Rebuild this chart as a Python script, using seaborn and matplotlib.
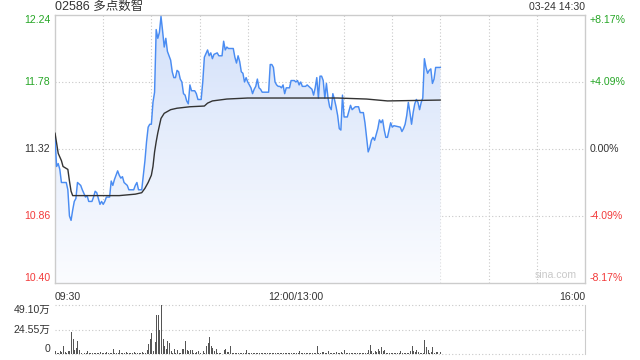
import numpy as np
import pandas as pd
import matplotlib
matplotlib.use("Agg")
import matplotlib.pyplot as plt
import matplotlib.transforms as mtransforms
from matplotlib.colors import LinearSegmentedColormap
import seaborn as sns

# ---------------- data ----------------
title = "02586 多点数智"
stamp = "03-24 14:30"
prev_close = 11.32
price_ticks = [12.24, 11.78, 11.32, 10.86, 10.40]
pct_ticks = ["+8.17%", "+4.09%", "0.00%", "-4.09%", "-8.17%"]
time_ticks = [0, 150, 330]
time_labels = ["09:30", "12:00/13:00", "16:00"]
vol_ticks = [49.10, 24.55, 0]
vol_labels = ["49.10万", "24.55万", "0"]

# (trading minute since 09:30, price)
price_points = [
    (0, 11.40), (1, 11.20), (2, 11.22), (3, 11.18), (4, 11.09), (5, 11.09), (6, 11.09), (7, 11.09),
    (8, 11.04), (9, 10.86), (10, 10.83), (11, 10.90), (12, 10.96), (13, 10.98), (14, 11.09),
    (16, 11.07), (17, 11.04), (19, 10.99), (20, 11.00), (21, 10.96), (23, 10.96), (24, 10.99),
    (25, 11.03), (26, 11.02), (27, 10.98), (28, 10.94), (29, 10.96), (30, 10.94), (31, 10.96),
    (32, 10.99), (34, 10.99), (35, 11.10), (36, 11.07), (37, 11.11), (39, 11.17), (40, 11.14),
    (41, 11.12), (42, 11.13), (43, 11.09), (45, 11.07), (46, 11.04), (48, 11.04), (49, 11.04),
    (50, 11.07), (51, 11.09), (52, 11.04), (54, 11.04), (56, 11.24), (57, 11.37), (58, 11.47),
    (59, 11.49), (60, 11.49), (61, 11.64), (62, 11.71), (63, 12.14), (64, 12.08), (65, 12.12),
    (66, 12.23), (67, 12.13), (68, 12.02), (69, 12.08), (70, 11.99), (71, 11.96), (72, 11.93),
    (73, 11.85), (74, 11.81), (75, 11.81), (76, 11.86), (77, 11.85), (78, 11.80), (79, 11.78),
    (80, 11.70), (81, 11.69), (82, 11.65), (83, 11.63), (84, 11.76), (85, 11.72), (87, 11.72),
    (88, 11.70), (89, 11.66), (91, 11.66), (92, 11.78), (93, 11.95), (95, 12.00), (96, 11.96),
    (97, 11.98), (98, 11.94), (99, 11.97), (101, 11.98), (102, 11.96), (104, 11.96), (105, 12.06),
    (106, 12.00), (107, 12.02), (108, 12.01), (111, 12.01), (112, 11.95), (113, 11.91), (114, 11.96),
    (115, 11.92), (116, 11.85), (117, 11.84), (118, 11.78), (119, 11.81), (120, 11.78), (121, 11.76),
    (122, 11.74), (123, 11.70), (124, 11.73), (125, 11.75), (126, 11.80), (127, 11.74), (128, 11.73),
    (129, 11.71), (131, 11.71), (133, 11.71), (134, 11.90), (135, 11.90), (136, 11.88), (137, 11.78),
    (138, 11.76), (139, 11.75), (140, 11.75), (141, 11.74), (142, 11.76), (143, 11.70), (144, 11.74),
    (146, 11.74), (147, 11.79), (148, 11.79), (149, 11.79), (150, 11.78), (151, 11.79), (152, 11.76),
    (153, 11.78), (154, 11.75), (156, 11.75), (157, 11.76), (158, 11.75), (160, 11.73), (161, 11.69),
    (162, 11.74), (163, 11.81), (164, 11.67), (165, 11.82), (166, 11.82), (167, 11.79), (168, 11.67),
    (169, 11.77), (170, 11.67), (171, 11.61), (172, 11.59), (173, 11.70), (174, 11.66), (175, 11.61),
    (176, 11.55), (177, 11.46), (178, 11.45), (179, 11.69), (180, 11.54), (182, 11.54), (184, 11.62),
    (185, 11.59), (187, 11.61), (189, 11.61), (190, 11.57), (192, 11.57), (193, 11.50), (194, 11.40),
    (195, 11.30), (196, 11.33), (197, 11.38), (198, 11.40), (199, 11.38), (200, 11.42), (201, 11.46),
    (202, 11.52), (203, 11.50), (204, 11.52), (205, 11.45), (206, 11.40), (207, 11.40), (208, 11.45),
    (209, 11.50), (210, 11.47), (211, 11.48), (215, 11.47), (216, 11.44), (217, 11.46), (218, 11.49),
    (219, 11.55), (220, 11.64), (221, 11.57), (222, 11.49), (223, 11.57), (224, 11.63), (225, 11.66),
    (226, 11.64), (227, 11.59), (228, 11.64), (229, 11.67), (230, 11.94), (231, 11.88), (232, 11.84),
    (233, 11.86), (234, 11.87), (235, 11.77), (236, 11.80), (237, 11.88), (238, 11.88), (240, 11.88),
]

avg_points = [
    (0, 11.43), (2, 11.29), (4, 11.24), (5, 11.20), (8, 11.18), (9, 11.10), (10, 11.03), (11, 11.00),
    (20, 11.00), (40, 11.00), (50, 11.01), (54, 11.02), (56, 11.05), (58, 11.09), (60, 11.14),
    (61, 11.20), (62, 11.30), (63, 11.37), (64, 11.43), (65, 11.48), (66, 11.53), (68, 11.565),
    (72, 11.59), (76, 11.60), (84, 11.61), (93, 11.615), (95, 11.635), (98, 11.65), (107, 11.663),
    (120, 11.67), (176, 11.67), (194, 11.663), (207, 11.65), (240, 11.656),
]

# volume per minute, in 万 shares (minute 0 .. 240)
volume = [
    3.3, 1.0, 1.5, 2.7, 1.7, 8.3, 1.7, 1.2, 3.3, 2.7,
    22.0, 15.0, 4.3, 6.0, 13.3, 3.7, 0.8, 0.5, 1.2, 0.8,
    3.3, 1.0, 0.6, 1.2, 0.8, 1.5, 0.7, 1.0, 2.0, 1.2,
    0.8, 1.5, 2.2, 0.7, 1.0, 1.5, 5.3, 0.8, 1.2, 0.6,
    4.3, 1.0, 0.7, 1.5, 2.0, 0.8, 1.2, 0.7, 1.5, 2.0,
    1.0, 0.6, 1.2, 0.8, 2.0, 1.5, 1.2, 3.7, 10.0, 15.0,
    21.0, 2.7, 11.7, 38.7, 38.7, 23.7, 49.1, 15.0, 7.7, 5.0,
    12.7, 11.0, 2.7, 1.5, 5.0, 1.0, 4.3, 1.5, 1.0, 5.0,
    5.0, 12.7, 3.7, 2.7, 4.3, 3.7, 1.5, 0.7, 1.7, 2.7,
    0.8, 0.5, 2.7, 1.0, 8.3, 11.0, 16.7, 7.7, 6.0, 2.7,
    5.3, 1.5, 1.0, 0.7, 0.5, 4.3, 5.3, 2.0, 1.7, 7.7,
    1.0, 0.8, 1.2, 0.6, 1.0, 0.8, 1.2, 0.7, 1.0, 3.7,
    0.8, 1.0, 0.6, 1.2, 0.8, 1.0, 0.7, 1.2, 0.9, 0.6,
    1.0, 1.2, 0.8, 0.7, 1.5, 1.0, 0.6, 0.9, 1.2, 0.8,
    0.7, 1.0, 1.3, 0.8, 0.6, 1.0, 1.2, 0.7, 0.9, 1.0,
    0.8, 1.2, 2.7, 1.0, 0.7, 1.5, 0.8, 1.0, 0.6, 1.0,
    1.2, 0.8, 1.0, 7.7, 0.8, 1.0, 2.0, 2.0, 0.7, 1.0,
    3.3, 0.8, 0.6, 1.0, 0.7, 1.7, 1.5, 0.8, 2.0, 1.0,
    3.7, 0.8, 0.7, 1.0, 0.6, 0.8, 1.0, 0.7, 0.9, 1.0,
    0.8, 0.7, 1.0, 0.6, 1.0, 3.7, 8.7, 2.7, 1.2, 2.7,
    1.7, 5.3, 2.7, 6.7, 2.7, 3.7, 0.7, 0.8, 0.6, 0.7,
    0.8, 0.6, 0.7, 0.8, 1.0, 2.7, 0.8, 0.6, 1.0, 0.7,
    1.0, 2.7, 7.7, 2.7, 1.7, 3.7, 1.7, 0.8, 1.0, 1.0,
    14.3, 6.7, 4.3, 1.0, 1.7, 6.7, 1.0, 1.7, 1.7, 0.5, 1.7,
]

# ---------------- styling ----------------
sns.set_style("white")
plt.rcParams["font.family"] = ["Liberation Sans", "Noto Sans CJK SC", "DejaVu Sans"]

GREEN = "#26a626"
RED = "#f23b3b"
DARK = "#333333"
GRID = "#c8c8c8"
SPINE = "#cccccc"
LINE = "#4a8cf2"

price_df = pd.DataFrame(price_points, columns=["minute", "price"])
avg_df = pd.DataFrame(avg_points, columns=["minute", "price"])
vol_df = pd.DataFrame({"minute": np.arange(len(volume)), "vol": volume})

fig = plt.figure(figsize=(6.4, 3.6), dpi=100)
W, H = 640, 360
ax = fig.add_axes([55 / W, 1 - 283 / H, 530 / W, 268 / H])
vax = fig.add_axes([55 / W, 1 - 354 / H, 530 / W, 49 / H])

ymin, ymax = price_ticks[-1], price_ticks[0]
ax.set_xlim(0, 330)
ax.set_ylim(ymin, ymax)

# gradient fill under the price line
poly = ax.fill_between(price_df["minute"], price_df["price"], ymin, color="none", lw=0)
cmap = LinearSegmentedColormap.from_list("g", ["#fbfcff", "#e8effc", "#d2e0fa"])
grad = np.linspace(0, 1, 256).reshape(-1, 1)
im = ax.imshow(grad, extent=[0, 330, ymin, ymax], aspect="auto", cmap=cmap,
               origin="lower", zorder=1)
im.set_clip_path(poly.get_paths()[0], transform=ax.transData)

# grid
for m in range(30, 330, 30):
    ax.axvline(m, color=GRID, lw=0.8, ls=(0, (1, 2)), zorder=0.5)
for p in price_ticks[1:-1]:
    ax.axhline(p, color=GRID, lw=0.8, ls=(0, (1, 2)), zorder=0.5)

sns.lineplot(data=price_df, x="minute", y="price", ax=ax, color=LINE, lw=1.05, zorder=3)
sns.lineplot(data=avg_df, x="minute", y="price", ax=ax, color=DARK, lw=1.0, zorder=4)

ax.set_xticks([])
ax.set_yticks([])
ax.set_xlabel("")
ax.set_ylabel("")
for s in ax.spines.values():
    s.set_color(SPINE)
    s.set_linewidth(1.0)

fs = 7.6
trans_l = mtransforms.blended_transform_factory(ax.transAxes, ax.transData)
for i, (p, pct) in enumerate(zip(price_ticks, pct_ticks)):
    col = GREEN if p > prev_close else (RED if p < prev_close else DARK)
    va = "top" if i == 0 else ("bottom" if i == len(price_ticks) - 1 else "center")
    ax.text(-0.009, p, f"{p:.2f}", transform=trans_l, ha="right", va=va,
            color=col, fontsize=fs)
    ax.text(1.009, p, pct, transform=trans_l, ha="left", va=va, color=col, fontsize=fs)

# time labels
trans_b = mtransforms.blended_transform_factory(ax.transData, ax.transAxes)
for t, lab, ha in zip(time_ticks, time_labels, ["left", "center", "right"]):
    ax.text(t, -0.035, lab, transform=trans_b, ha=ha, va="top", color=DARK, fontsize=fs)

fig.text(55 / W, 1 - 7 / H, title, ha="left", va="center", color=DARK, fontsize=9)
fig.text(585 / W, 1 - 7 / H, stamp, ha="right", va="center", color=DARK, fontsize=fs)
ax.text(0.985, 0.012, "sina.com", transform=ax.transAxes, ha="right", va="bottom",
        color="#c9c9c9", fontsize=7.6)

# volume panel
vax.set_xlim(0, 330)
vax.set_ylim(0, vol_ticks[0])
vax.vlines(vol_df["minute"], 0, vol_df["vol"], color="#555555", lw=0.72,
           antialiased=False, zorder=3)
for v in vol_ticks:
    vax.axhline(v, color=GRID, lw=0.8, ls=(0, (1, 2)), zorder=0.5, clip_on=False)
vax.set_xticks([])
vax.set_yticks([])
vax.set_xlabel("")
vax.set_ylabel("")
for k, s in vax.spines.items():
    s.set_visible(k == "right")
    s.set_color(SPINE)
trans_v = mtransforms.blended_transform_factory(vax.transAxes, vax.transData)
for i, (v, lab) in enumerate(zip(vol_ticks, vol_labels)):
    va = "top" if i == 0 else ("bottom" if i == len(vol_ticks) - 1 else "center")
    vax.text(-0.009, v, lab, transform=trans_v, ha="right", va=va, color=DARK, fontsize=fs)

fig.savefig("out.png", dpi=100, facecolor="white")
